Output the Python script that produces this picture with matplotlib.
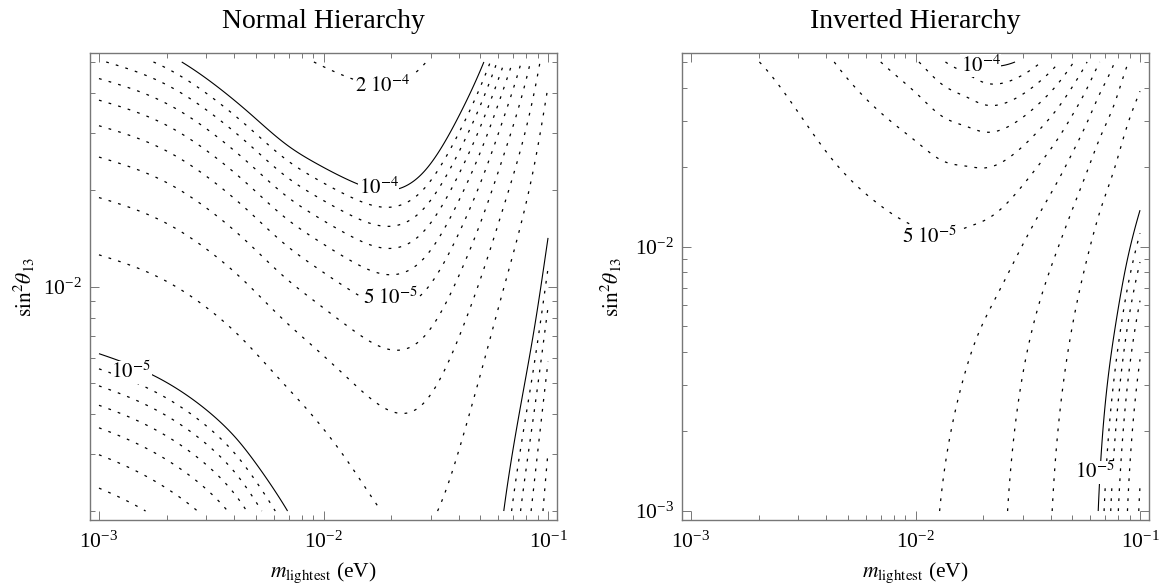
import numpy as np
import matplotlib

matplotlib.use("Agg")  # headless
import matplotlib.pyplot as plt
from matplotlib.ticker import LogLocator, NullFormatter, LogFormatterMathtext

plt.rcParams["font.family"] = "serif"
plt.rcParams["font.serif"] = ["Liberation Serif", "DejaVu Serif"]
plt.rcParams["mathtext.fontset"] = "stix"

# --- values ----------------------------------------------------------------
# quantity ~ A(m) + B(m) * sin^2(theta13); A, B read at these lightest masses
m_nh = [0.001, 0.002, 0.004, 0.0047, 0.007, 0.0094, 0.013, 0.019, 0.028, 0.04,
        0.052, 0.064, 0.077, 0.089, 0.1]
A_nh = [3.0e-7, 6.0e-7, 1.1e-6, 1.5e-6, 3.0e-6, 5.0e-6, 7.9e-6, 1.15e-5,
        1.35e-5, 1.2e-5, 9.4e-6, 7.4e-6, 6.1e-6, 5.4e-6, 4.9e-6]
B_nh = [1.57e-3, 1.87e-3, 2.6e-3, 2.85e-3, 3.55e-3, 3.95e-3, 4.3e-3, 4.45e-3,
        3.8e-3, 2.6e-3, 1.8e-3, 1.25e-3, 0.85e-3, 0.56e-3, 0.36e-3]

m_ih = [0.001, 0.002, 0.0043, 0.007, 0.0103, 0.0131, 0.0169, 0.02, 0.0255,
        0.0364, 0.0436, 0.0507, 0.0581, 0.0662, 0.0771, 0.0864, 0.1]
A_ih = [4.30e-5, 4.32e-5, 4.28e-5, 4.20e-5, 4.08e-5, 3.88e-5, 3.58e-5, 3.30e-5,
        2.87e-5, 2.10e-5, 1.72e-5, 1.40e-5, 1.12e-5, 8.9e-6, 6.8e-6, 5.65e-6,
        4.5e-6]
B_ih = [1.0e-4, 1.35e-4, 3.4e-4, 5.6e-4, 7.8e-4, 1.0e-3, 1.2e-3, 1.36e-3,
        1.46e-3, 1.38e-3, 1.26e-3, 1.12e-3, 0.976e-3, 0.82e-3, 0.664e-3,
        0.52e-3, 0.40e-3]

s13_range_nh = (0.002, 0.05)
s13_range_ih = (0.001, 0.05)
m_range = (0.001, 0.1)

levels_solid = [1e-5, 1e-4]
levels_dotted = [2e-6, 3e-6, 4e-6, 5e-6, 6e-6, 7e-6, 8e-6, 9e-6,
                 2e-5, 3e-5, 4e-5, 5e-5, 6e-5, 7e-5, 8e-5, 9e-5,
                 2e-4, 3e-4]

labels_nh = [(r"$2\ 10^{-4}$", 0.0183, 0.042), (r"$10^{-4}$", 0.0176, 0.0203),
             (r"$5\ 10^{-5}$", 0.0199, 0.0092), (r"$10^{-5}$", 0.00139, 0.0054)]
labels_ih = [(r"$10^{-4}$", 0.0195, 0.0484), (r"$5\ 10^{-5}$", 0.0116, 0.0109),
             (r"$10^{-5}$", 0.0629, 0.0014)]


def natural_spline(xk, yk, x):
    xk = np.asarray(xk, float)
    yk = np.asarray(yk, float)
    n = len(xk)
    h = np.diff(xk)
    mat = np.zeros((n, n))
    rhs = np.zeros(n)
    mat[0, 0] = mat[-1, -1] = 1.0
    for i in range(1, n - 1):
        mat[i, i - 1] = h[i - 1]
        mat[i, i] = 2 * (h[i - 1] + h[i])
        mat[i, i + 1] = h[i]
        rhs[i] = 6 * ((yk[i + 1] - yk[i]) / h[i] - (yk[i] - yk[i - 1]) / h[i - 1])
    M = np.linalg.solve(mat, rhs)
    idx = np.clip(np.searchsorted(xk, x) - 1, 0, n - 2)
    x0, x1 = xk[idx], xk[idx + 1]
    hh = x1 - x0
    a = (x1 - x) / hh
    b = (x - x0) / hh
    return (a * yk[idx] + b * yk[idx + 1]
            + ((a ** 3 - a) * M[idx] + (b ** 3 - b) * M[idx + 1]) * hh ** 2 / 6)


def profile(mk, vals, m):
    return 10 ** natural_spline(np.log10(mk), np.log10(vals), np.log10(m))


def draw_panel(ax, mk, A, B, srange, labels, title):
    m = np.logspace(np.log10(m_range[0]), np.log10(m_range[1]), 500)
    s = np.logspace(np.log10(srange[0]), np.log10(srange[1]), 500)
    MM, SS = np.meshgrid(m, s)
    F = profile(mk, A, MM) + profile(mk, B, MM) * SS

    ax.contour(MM, SS, F, levels=levels_solid, colors="k", linewidths=0.8)
    ax.contour(MM, SS, F, levels=levels_dotted, colors="k", linewidths=0.9,
               linestyles=[(0, (2.2, 5.8))])

    for txt, x, y in labels:
        ax.text(x, y, txt, fontsize=15, ha="center", va="center", zorder=5,
                bbox=dict(facecolor="white", edgecolor="none", pad=0.5))

    ax.set_xscale("log")
    ax.set_yscale("log")
    lx0, lx1 = np.log10(m_range)
    px = 0.02 * (lx1 - lx0)
    ax.set_xlim(10 ** (lx0 - px), 10 ** (lx1 + px))
    ly0, ly1 = np.log10(srange)
    py = 0.02 * (ly1 - ly0)
    ax.set_ylim(10 ** (ly0 - py), 10 ** (ly1 + py))

    for axis in (ax.xaxis, ax.yaxis):
        axis.set_major_locator(LogLocator(base=10, numticks=10))
        axis.set_minor_locator(LogLocator(base=10, subs=np.arange(2, 10), numticks=10))
        axis.set_major_formatter(LogFormatterMathtext())
        axis.set_minor_formatter(NullFormatter())

    ax.tick_params(which="both", direction="in", top=True, right=True,
                   color="#777777", width=0.7, labelsize=15.5)
    ax.tick_params(which="major", length=6.3)
    ax.tick_params(which="minor", length=3.4)
    ax.tick_params(axis="x", pad=8)
    ax.tick_params(axis="y", pad=6)
    for sp in ax.spines.values():
        sp.set_color("#777777")
        sp.set_linewidth(1.0)

    ax.set_title(title, fontsize=20, pad=18)
    ax.set_xlabel(r"$m_{\mathrm{lightest}}$ (eV)", fontsize=15.5)
    ax.xaxis.set_label_coords(0.5, -0.087)
    ax.set_ylabel(r"$\mathrm{sin}^2\theta_{13}$", fontsize=15.5)


fig = plt.figure(figsize=(11.63, 5.86), dpi=100)
ax_nh = fig.add_axes([90 / 1163, 66 / 586, 467 / 1163, 467 / 586])
ax_ih = fig.add_axes([682 / 1163, 66 / 586, 467 / 1163, 467 / 586])

draw_panel(ax_nh, m_nh, A_nh, B_nh, s13_range_nh, labels_nh, "Normal Hierarchy")
draw_panel(ax_ih, m_ih, A_ih, B_ih, s13_range_ih, labels_ih, "Inverted Hierarchy")
ax_nh.yaxis.set_label_coords(-0.114, 0.5)
ax_ih.yaxis.set_label_coords(-0.124, 0.5)

fig.savefig("out.png", dpi=100)
plt.close(fig)
